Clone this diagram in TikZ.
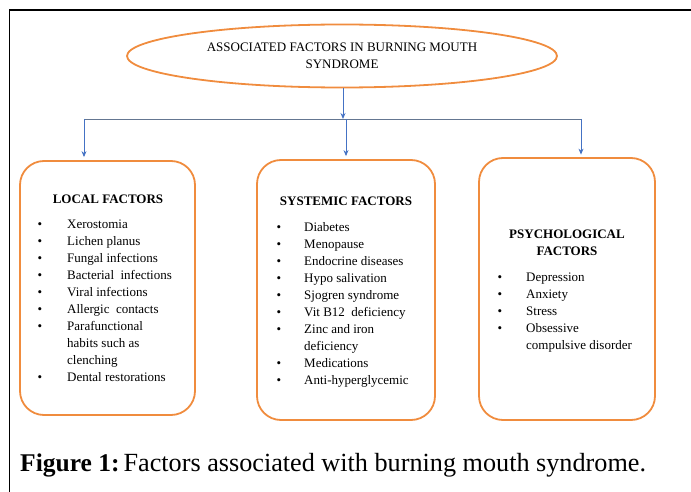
\documentclass[tikz,border=0pt]{standalone}
\usepackage{fontspec}
\setmainfont{Liberation Serif}
\usetikzlibrary{arrows.meta, positioning, shapes.geometric}
\definecolor{boxorange}{RGB}{240,140,62}
\definecolor{arrowblue}{RGB}{68,114,196}
\definecolor{linegray}{RGB}{100,118,145}

\begin{document}
\begin{tikzpicture}[x=1pt, y=-1pt, >={Stealth[length=6pt, width=5pt]},
        factorbox/.style={draw=boxorange, line width=1.8pt, rounded corners=24pt, minimum width=#1, inner sep=0pt},
        titleoval/.style={ellipse, draw=boxorange, line width=1.8pt, minimum width=430pt, minimum height=63pt, align=center, font=\fontsize{13}{17}\selectfont},
        boxtitle/.style={align=center, font=\fontsize{13}{17}\selectfont\bfseries, inner sep=0pt},
        itemlist/.style={anchor=north west, inner sep=0pt, font=\fontsize{13}{17}\selectfont},
        branch/.style={->, arrowblue, line width=0.9pt}]
        \useasboundingbox (0,0) rectangle (691,492);

        % Frame
        \draw[line width=1.2pt] (691,10) -- (9.5,10) -- (9.5,492);

        % Title
        \node[titleoval] (main) at (342,56) {ASSOCIATED FACTORS IN BURNING MOUTH\\SYNDROME};

        % Boxes
        \node[factorbox=175pt, minimum height=254pt] (local) at (107.5,288) {};
        \node[factorbox=178pt, minimum height=260pt] (systemic) at (346,290) {};
        \node[factorbox=176pt, minimum height=262pt] (psych) at (567,289) {};

        % Box titles
        \node[boxtitle] (localtitle) at (108,199) {LOCAL FACTORS};
        \node[boxtitle] (systemictitle) at (346,201) {SYSTEMIC FACTORS};
        \node[boxtitle] (psychtitle) at (567,242.5) {PSYCHOLOGICAL\\FACTORS};

        % Lists
        \node[itemlist] (locallist) at (37.5,216) {\begin{tabular}{@{}p{29.5pt}@{}l@{}}
            \textbullet & Xerostomia\\
            \textbullet & Lichen planus\\
            \textbullet & Fungal infections\\
            \textbullet & Bacterial\ \ infections\\
            \textbullet & Viral infections\\
            \textbullet & Allergic\ \ contacts\\
            \textbullet & Parafunctional\\
                        & habits such as\\
                        & clenching\\
            \textbullet & Dental restorations
        \end{tabular}};
        \node[itemlist] (systemiclist) at (276.5,219) {\begin{tabular}{@{}p{27.5pt}@{}l@{}}
            \textbullet & Diabetes\\
            \textbullet & Menopause\\
            \textbullet & Endocrine diseases\\
            \textbullet & Hypo salivation\\
            \textbullet & Sjogren syndrome\\
            \textbullet & Vit B12\ \ deficiency\\
            \textbullet & Zinc and iron\\
                        & deficiency\\
            \textbullet & Medications\\
            \textbullet & Anti-hyperglycemic
        \end{tabular}};
        \node[itemlist] (psychlist) at (497.5,269) {\begin{tabular}{@{}p{28.5pt}@{}l@{}}
            \textbullet & Depression\\
            \textbullet & Anxiety\\
            \textbullet & Stress\\
            \textbullet & Obsessive\\
                        & compulsive disorder
        \end{tabular}};

        % Connectors
        \coordinate (split) at (343,119);
        \coordinate (splitL) at (84,119);
        \coordinate (splitR) at (581,119);
        \draw[branch] (main.south -| split) -- (split);
        \draw[linegray, line width=0.9pt] (splitL) -- (splitR);
        \draw[branch, shorten >=3pt] (splitL) -- (splitL |- local.north);
        \draw[branch, shorten >=3pt] (split -| systemic.north) -- (systemic.north);
        \draw[branch, shorten >=2.5pt] (splitR) -- (splitR |- psych.north);

        % Caption
        \node[anchor=base west, inner sep=0pt, font=\fontsize{25.5}{30}\selectfont] (caption) at (20,471) {\textbf{Figure 1:}\hspace{4pt}{\fontsize{26.2}{30}\selectfont Factors associated with burning mouth syndrome.}};
    \end{tikzpicture}
\end{document}
